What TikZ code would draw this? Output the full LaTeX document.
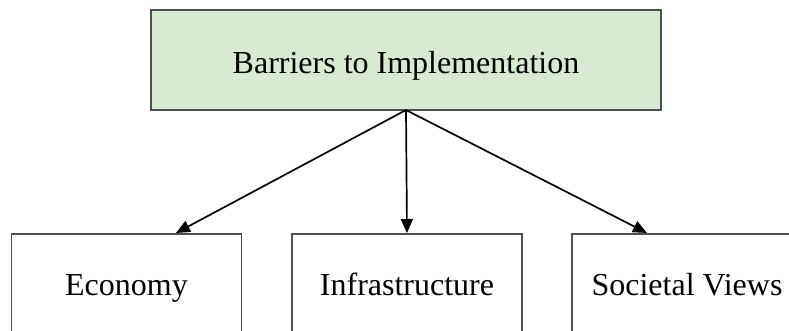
\documentclass[tikz,border=0pt]{standalone}
\usepackage{fontspec}
\setmainfont{Liberation Serif}
\usetikzlibrary{arrows.meta}
\definecolor{boxgreen}{HTML}{D9EAD3}
\definecolor{edgegray}{HTML}{505050}
\begin{document}
\begin{tikzpicture}[x=1pt,y=-1pt,
  box/.style={draw=edgegray, line width=1.6pt, inner sep=0pt,
    font=\fontsize{32}{38}\selectfont, text depth=0pt},
  topbox/.style={box, fill=boxgreen, minimum width=510pt, minimum height=100pt, text height=28pt},
  leafbox/.style={box, fill=white, minimum width=230pt, minimum height=100pt, text height=22pt},
  arr/.style={line width=1.7pt, -{Triangle[length=14pt,width=12pt]}}]
\path[use as bounding box, clip] (0,0) rectangle (789,331);
\fill[white] (0,0) rectangle (789,331);
\node[topbox] (top) at (406,60) {Barriers to Implementation};
\node[leafbox] (eco) at (126.5,284) {Economy};
\node[leafbox] (infra) at (407,284) {Infrastructure};
\node[leafbox] (soc) at (687,284) {Societal Views};
\coordinate (hub) at (406,110);
\coordinate (ecotip) at (176,233);
\coordinate (infratip) at (407,233);
\coordinate (soctip) at (647,233);
\draw[arr] (hub) -- (ecotip);
\draw[arr] (hub) -- (infratip);
\draw[arr] (hub) -- (soctip);
\end{tikzpicture}
\end{document}
